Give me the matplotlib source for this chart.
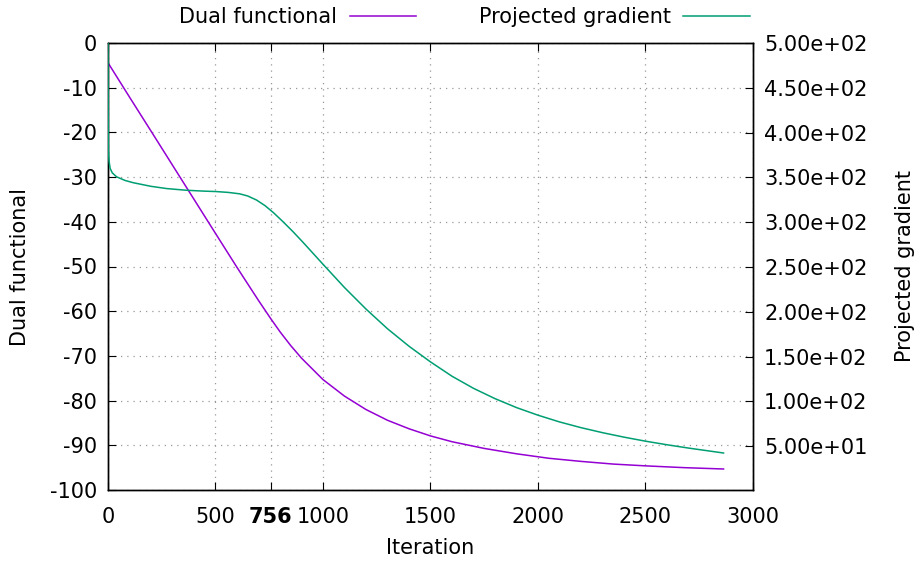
import matplotlib.pyplot as plt
from matplotlib.lines import Line2D

# Dual functional (left axis)
iters_dual = [0, 1, 100, 200, 365, 500, 600, 700, 756, 800, 850, 900, 1000, 1100, 1200, 1300,
              1400, 1500, 1600, 1750, 1900, 2050, 2200, 2350, 2500, 2680, 2863]
dual = [0, -4.5, -12.1, -19.7, -32.3, -42.6, -50.2, -57.6, -61.6, -64.6, -67.7, -70.5, -75.3,
        -79.0, -82.0, -84.4, -86.3, -87.9, -89.2, -90.7, -91.9, -92.9, -93.6, -94.2, -94.6,
        -95.0, -95.3]

# Projected gradient (right axis)
iters_grad = [0, 1, 2, 5, 10, 20, 40, 80, 118, 200, 273, 365, 450, 500, 560, 613, 650, 690, 730,
              770, 814, 860, 907, 1000, 1100, 1200, 1300, 1400, 1500, 1600, 1700, 1800, 1900,
              2000, 2100, 2200, 2300, 2400, 2500, 2600, 2700, 2863]
grad = [500, 420, 380, 368, 360, 355, 350.6, 346.5, 344, 340, 337.5, 335.6, 334.6, 334.2, 333.2,
        331.6, 329.2, 324.8, 318.5, 310.5, 300.5, 289.5, 277.5, 253, 227, 203, 181, 161.5, 144,
        128, 114.5, 103, 93, 84.5, 77, 70.6, 65, 60, 55.5, 51.5, 47.8, 42.3]

xticks = [0, 500, 756, 1000, 1500, 2000, 2500, 3000]
yticks_left = list(range(-100, 1, 10))
yticks_right = [50, 100, 150, 200, 250, 300, 350, 400, 450, 500]

purple = '#9400d3'
green = '#009e73'
fs = 15

plt.rcParams['font.family'] = 'DejaVu Sans'
plt.rcParams['axes.unicode_minus'] = False
fig = plt.figure(figsize=(9.2, 5.66), dpi=100)
ax = fig.add_axes([108 / 920, 1 - 490 / 566, (753 - 108) / 920, (490 - 43) / 566])
ax2 = ax.twinx()

ax.plot(iters_dual, dual, color=purple, lw=1.1, zorder=3)
ax2.plot(iters_grad, grad, color=green, lw=1.1, zorder=3)

ax.set_xlim(0, 3000)
ax.set_ylim(-100, 0)
ax2.set_ylim(1, 500)

ax.set_xticks(xticks)
ax.set_xticklabels([str(t) for t in xticks])
for lab in ax.get_xticklabels():
    if lab.get_text() == '756':
        lab.set_fontweight('bold')
ax.set_yticks(yticks_left)
ax2.set_yticks(yticks_right)
ax2.set_yticklabels(['%.2fe+%02d' % (v / 10 ** (len(str(v)) - 1), len(str(v)) - 1) for v in yticks_right])

ax.grid(True, color='#999999', linestyle=(0, (1, 4)), lw=0.9)
ax.tick_params(axis='x', direction='in', length=6, top=True, labelsize=fs, pad=12)
ax.tick_params(axis='y', direction='in', length=6, labelsize=fs, pad=8)
ax2.tick_params(axis='y', direction='in', length=6, labelsize=fs, pad=8)

for a in (ax, ax2):
    for s in a.spines.values():
        s.set_linewidth(1.0)

ax.set_xlabel('Iteration', fontsize=fs, labelpad=8)
ax.set_ylabel('Dual functional', fontsize=fs, labelpad=14)
ax2.set_ylabel('Projected gradient', fontsize=fs, labelpad=20)

handles = [Line2D([], [], color=purple, lw=1.1), Line2D([], [], color=green, lw=1.1)]
fig.legend(handles, ['Dual functional', 'Projected gradient'], loc='center',
           bbox_to_anchor=(0.505, 1 - 17 / 566), ncol=2, frameon=False, fontsize=fs,
           markerfirst=False, handlelength=3.2, handletextpad=0.6, columnspacing=3.0,
           borderaxespad=0, borderpad=0)

fig.savefig('out.png', dpi=100)
